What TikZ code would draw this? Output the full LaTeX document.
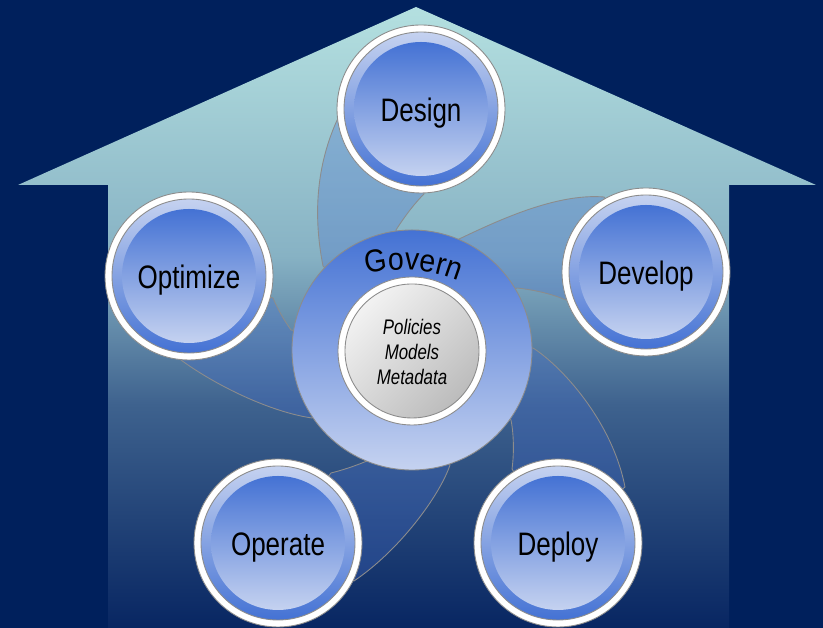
\documentclass[tikz,border=0pt]{standalone}
\usepackage{fontspec}
\setmainfont{Liberation Sans}
\newfontfamily\narrowfont[FakeStretch=0.8]{Liberation Sans}
\newfontfamily\hubfont[FakeStretch=0.9]{Liberation Sans}

\definecolor{navy}{RGB}{0,32,92}
\definecolor{houseA}{RGB}{180,224,224}
\definecolor{houseB}{RGB}{135,178,196}
\definecolor{houseC}{RGB}{62,98,142}
\definecolor{houseD}{RGB}{8,38,98}
\definecolor{discdark}{RGB}{68,114,212}
\definecolor{discmid}{RGB}{140,165,228}
\definecolor{disclight}{RGB}{197,210,240}
\definecolor{rimgray}{RGB}{140,140,140}
\definecolor{bladeblue}{RGB}{70,110,205}
\definecolor{coreA}{RGB}{242,242,242}
\definecolor{coreB}{RGB}{188,188,188}

\pgfdeclareverticalshading{housefade}{100bp}{color(0bp)=(houseD); color(25bp)=(houseD); color(43bp)=(houseC); color(55bp)=(houseB); color(75bp)=(houseA); color(100bp)=(houseA)}

\begin{document}
\begin{tikzpicture}[x=0.02cm,y=0.02cm,
  rim/.style={draw=rimgray,line width=0.5pt},
  blade/.style={fill=bladeblue,fill opacity=0.3,draw=rimgray,line width=0.5pt},
  bezel/.style={rim,top color=disclight,bottom color=discdark},
  disc/.style={top color=discdark,middle color=discmid,bottom color=disclight},
  stagelabel/.style={font=\narrowfont\fontsize{18.5}{20}\selectfont,anchor=base,yshift=-0.26cm,inner sep=0pt},
  hubletter/.style={font=\hubfont\fontsize{18}{20}\selectfont,anchor=base,inner sep=0pt},
  coretext/.style={font=\narrowfont\itshape\fontsize{12}{14.2}\selectfont,align=center}]
  \useasboundingbox (0,0) rectangle (823,628);
  \fill[navy] (0,0) rectangle (823,628);

  % house
  \shade[shading=housefade] (108,0) -- (108,443) -- (18,443) -- (416,621) -- (816,443) -- (729,443) -- (729,0) -- cycle;

  % blades
  \draw[blade] (396,398) .. controls (405,412) and (414,424) .. (424,434) -- (421,519) -- (339,512) .. controls (318,468) and (312,418) .. (323,362) -- (412,278) -- cycle;
  \draw[blade] (517,340) .. controls (535,338) and (552,334) .. (566,328) -- (646,356) -- (604,431) .. controls (555,435) and (495,406) .. (457,388) -- (412,278) -- cycle;
  \draw[blade] (511,208) .. controls (514,193) and (514,173) .. (512,159) -- (558,85) -- (625,141) .. controls (612,208) and (560,263) .. (533,280) -- (412,278) -- cycle;
  \draw[blade] (367,167) .. controls (355,162) and (343,158) .. (331,155) -- (278,85) -- (354,47) .. controls (400,78) and (440,133) .. (450,163) -- (412,278) -- cycle;
  \draw[blade] (291,298) .. controls (284,308) and (278,318) .. (273,330) -- (189,352) -- (181,268) .. controls (215,243) and (270,216) .. (312,210) -- (412,278) -- cycle;

  % stages
  \foreach \nm/\x/\y/\txt in {design/421/519/Design, develop/646/356/Develop, deploy/558/85/Deploy, operate/278/85/Operate, optimize/189/352/Optimize}{
    \fill[white,rim] (\x,\y) circle[radius=84];
    \shade[bezel] (\x,\y) circle[radius=77];
    \shade[disc] (\x,\y) circle[radius=67];
    \node[stagelabel] (\nm) at (\x,\y) {\txt};
  }

  % govern hub
  \shade[rim,top color=discdark,middle color=discmid,bottom color=disclight] (412,278) circle[radius=120];
  \foreach \ch/\ang in {G/99.5, o/92.2, v/86.4, e/80.6, r/75.8, n/70.9}
    \node[hubletter,rotate=\ang-90] (gov\ch) at ([shift={(\ang:150)}]402,208) {\ch};
  \fill[white,rim] (412,277) circle[radius=74];
  \shade[rim,top color=coreA,bottom color=coreB,shading angle=45] (412,277) circle[radius=67];
  \node[coretext] (core) at (412,276) {Policies\\Models\\Metadata};
\end{tikzpicture}
\end{document}
